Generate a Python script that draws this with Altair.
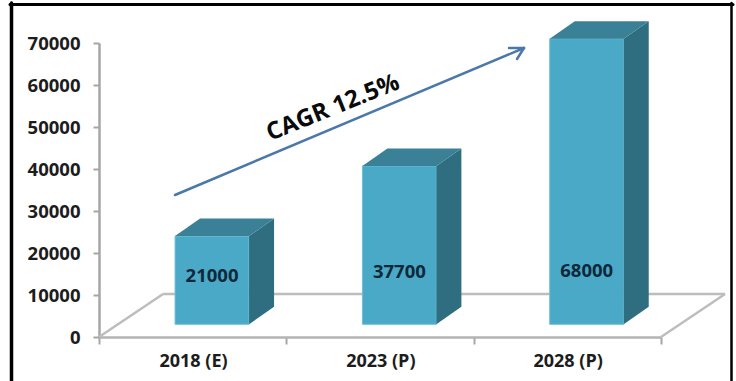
import altair as alt
import pandas as pd

categories = ["2018 (E)", "2023 (P)", "2028 (P)"]
values = [21000, 37700, 68000]
y_ticks = [0, 10000, 20000, 30000, 40000, 50000, 60000, 70000]

# Layout of the pseudo-3D scene, in axis units
BAR_LEFT = 0.406
BAR_WIDTH = 0.395
DEPTH_X = 0.1335
DEPTH_Y = 4170
BASE = 3020
FLOOR_X = 0.342
FLOOR_Y = 10240
FONT = "Open Sans"
INK = "#1c1c1c"
LABEL_Y_PX = [233, 229, 228]

bars = pd.DataFrame({"cat": categories, "value": values})
bars["x0"] = [i + BAR_LEFT for i in range(len(bars))]
bars["x1"] = bars["x0"] + BAR_WIDTH
bars["y0"] = BASE
bars["y1"] = BASE + bars["value"]
bars["mid"] = bars["x0"] + BAR_WIDTH / 2

top_rows, side_rows = [], []
for r in bars.itertuples():
    top_rows += [
        {"cat": r.cat, "y": r.y1, "a": r.x0, "b": r.x1},
        {"cat": r.cat, "y": r.y1 + DEPTH_Y, "a": r.x0 + DEPTH_X, "b": r.x1 + DEPTH_X},
    ]
    side_rows += [
        {"cat": r.cat, "x": r.x1, "lo": r.y0, "hi": r.y1},
        {"cat": r.cat, "x": r.x1 + DEPTH_X, "lo": r.y0 + DEPTH_Y, "hi": r.y1 + DEPTH_Y},
    ]
top = pd.DataFrame(top_rows)
side = pd.DataFrame(side_rows)

floor = pd.DataFrame({
    "x": [FLOOR_X, 0, 3],
    "x2": [3 + FLOOR_X, FLOOR_X, 3 + FLOOR_X],
    "y": [FLOOR_Y, 0, 0],
    "y2": [FLOOR_Y, FLOOR_Y, FLOOR_Y],
})

x_scale = alt.Scale(domain=[0, 3], nice=False, zero=False)
y_scale = alt.Scale(domain=[0, 70000], nice=False, zero=False)

label_expr = "datum.value == 0 ? '2018 (E)' : datum.value == 1 ? '2023 (P)' : datum.value == 2 ? '2028 (P)' : ''"
x_axis = alt.Axis(
    values=[0, 1, 2, 3], labelExpr=label_expr, labelOffset=94, title=None, grid=False,
    labelFlush=False, labelOverlap=False,
    labelFont=FONT, labelFontSize=18, labelFontWeight="bold", labelColor=INK, labelPadding=8,
    domainColor="#b3b3b3", domainWidth=2.5, tickColor="#a6a6a6", tickWidth=2, tickSize=7,
)
y_axis = alt.Axis(
    values=y_ticks, format="d", title=None, grid=False,
    labelFont=FONT, labelFontSize=18.5, labelFontWeight="bold", labelColor=INK, labelPadding=13,
    domainColor="#a6a6a6", domainWidth=2.5, tickColor="#a6a6a6", tickWidth=2, tickSize=6,
)

floor_layer = alt.Chart(floor).mark_rule(color="#bdbdbd", strokeWidth=2.5).encode(
    x=alt.X("x:Q", scale=x_scale, axis=x_axis),
    x2="x2:Q",
    y=alt.Y("y:Q", scale=y_scale, axis=y_axis),
    y2="y2:Q",
)

front_layer = alt.Chart(bars).mark_rect(color="#49a9c6", stroke="#6fc0d6", strokeWidth=1).encode(
    x=alt.X("x0:Q", scale=x_scale),
    x2="x1:Q",
    y=alt.Y("y0:Q", scale=y_scale),
    y2="y1:Q",
)

top_layer = alt.Chart(top).mark_area(orient="horizontal", color="#3a8198", opacity=1).encode(
    y=alt.Y("y:Q", scale=y_scale),
    x=alt.X("a:Q", scale=x_scale, stack=None),
    x2="b:Q",
    detail="cat:N",
)

side_layer = alt.Chart(side).mark_area(color="#2f6e80", opacity=1).encode(
    x=alt.X("x:Q", scale=x_scale),
    y=alt.Y("lo:Q", scale=y_scale, stack=None),
    y2="hi:Q",
    detail="cat:N",
)

value_layers = [
    alt.Chart(bars[bars["cat"] == c]).mark_text(
        font=FONT, fontSize=18.5, fontWeight="bold", color="#10283a"
    ).encode(
        x=alt.X("mid:Q", scale=x_scale),
        y=alt.value(py),
        text=alt.Text("value:Q", format="d"),
    )
    for c, py in zip(categories, LABEL_Y_PX)
]

# Growth arrow and its caption, placed in plot pixels
ARROW = "#4a78a8"
def stroke(x, y, x2, y2, color=ARROW, width=2.5):
    return alt.Chart(bars.head(1)).mark_rule(color=color, strokeWidth=width, strokeCap="round").encode(
        x=alt.value(x), y=alt.value(y), x2=alt.value(x2), y2=alt.value(y2)
    )

arrow = [stroke(76, 152, 425, 5), stroke(425, 5, 410, 5), stroke(425, 5, 418, 16)]

caption = alt.Chart(bars.head(1)).mark_text(
    text="CAGR 12.5%", font=FONT, fontSize=24, fontWeight="bold", color="#0a0a0a", angle=338
).encode(x=alt.value(234), y=alt.value(65))

# Black frame open at the bottom
frame = [
    stroke(-87.5, -40, -87.5, 338, "#000000", 3.5),
    stroke(-89, -38.5, 634, -38.5, "#000000", 3),
    stroke(632.5, -40, 632.5, 338, "#000000", 2.5),
]

chart = alt.layer(
    floor_layer, front_layer, side_layer, top_layer, *value_layers, *arrow, caption, *frame
).resolve_scale(x="shared", y="shared").properties(
    width=562,
    height=294,
    padding={"left": 99, "top": 43, "right": 75, "bottom": 44},
    autosize=alt.AutoSizeParams(type="none"),
    background="white",
).configure_view(stroke=None)

chart.save("out.html", embed_options={"renderer": "svg", "actions": False})
